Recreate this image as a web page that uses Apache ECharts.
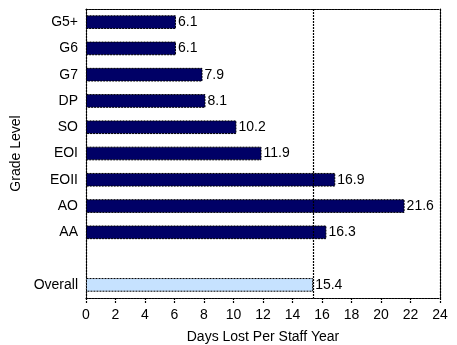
<!DOCTYPE html>
<html><head><meta charset="utf-8">
<script src="https://cdn.jsdelivr.net/npm/echarts@6/dist/echarts.min.js"></script>
<style>html,body{margin:0;padding:0;background:#fff}#c{width:457px;height:345px}</style>
</head><body><div id="c"></div>
<script>
const categories = ['G5+','G6','G7','DP','SO','EOI','EOII','AO','AA','','Overall'];
const gradeValues = [6.1,6.1,7.9,8.1,10.2,11.9,16.9,21.6,16.3];
const overallValue = 15.4;
const xTicks = [0,2,4,6,8,10,12,14,16,18,20,22,24];

const font = 'Liberation Sans, Arial, sans-serif';
const data = categories.map((c,i)=>{
  if (i < gradeValues.length) return {value: gradeValues[i]};
  if (c === 'Overall') return {value: overallValue, itemStyle:{color:'#c6e2ff'}};
  return {value: null};
});
const dotted = {color:'#000', width:1.2, type:[2,1]};
const chart = echarts.init(document.getElementById('c'));
chart.setOption({
  animation:false,
  grid:{left:86,right:17,top:9,bottom:47,containLabel:false,outerBoundsMode:'none'},
  xAxis:[{type:'value',min:xTicks[0],max:xTicks[xTicks.length-1],interval:2,
    name:'Days Lost Per Staff Year',nameLocation:'middle',nameGap:32,
    nameTextStyle:{fontFamily:font,fontSize:14,color:'#000'},
    axisLine:{show:true,onZero:false,lineStyle:dotted},
    axisTick:{show:true,length:6,lineStyle:dotted},
    axisLabel:{fontFamily:font,fontSize:14,color:'#000',margin:10},
    splitLine:{show:false}},
    {type:'value',position:'top',min:0,max:24,axisLine:{show:true,onZero:false,lineStyle:dotted},axisTick:{show:false},axisLabel:{show:false},splitLine:{show:false}}],
  yAxis:[{type:'category',data:categories,inverse:true,
    name:'Grade Level',nameLocation:'middle',nameGap:55,nameRotate:90,
    nameTextStyle:{fontFamily:font,fontSize:14,color:'#000'},
    axisLine:{show:true,onZero:false,lineStyle:dotted},axisTick:{show:false},
    axisLabel:{fontFamily:font,fontSize:14,color:'#000',margin:8}},
    {type:'category',data:categories,inverse:true,position:'right',
    axisLine:{show:true,onZero:false,lineStyle:dotted},axisTick:{show:false},axisLabel:{show:false}}],
  series:[{type:'bar',data:data,barWidth:'52%',
    itemStyle:{color:'#000066',borderColor:'#000',borderWidth:1,borderType:[2,1]},
    label:{show:true,position:'right',distance:2,fontFamily:font,fontSize:14,color:'#000'},
    markLine:{symbol:'none',silent:true,label:{show:false},
      lineStyle:{color:'#000',width:1.2,type:[2,1]},
      data:[{xAxis:overallValue}]}}]
});
</script></body></html>
